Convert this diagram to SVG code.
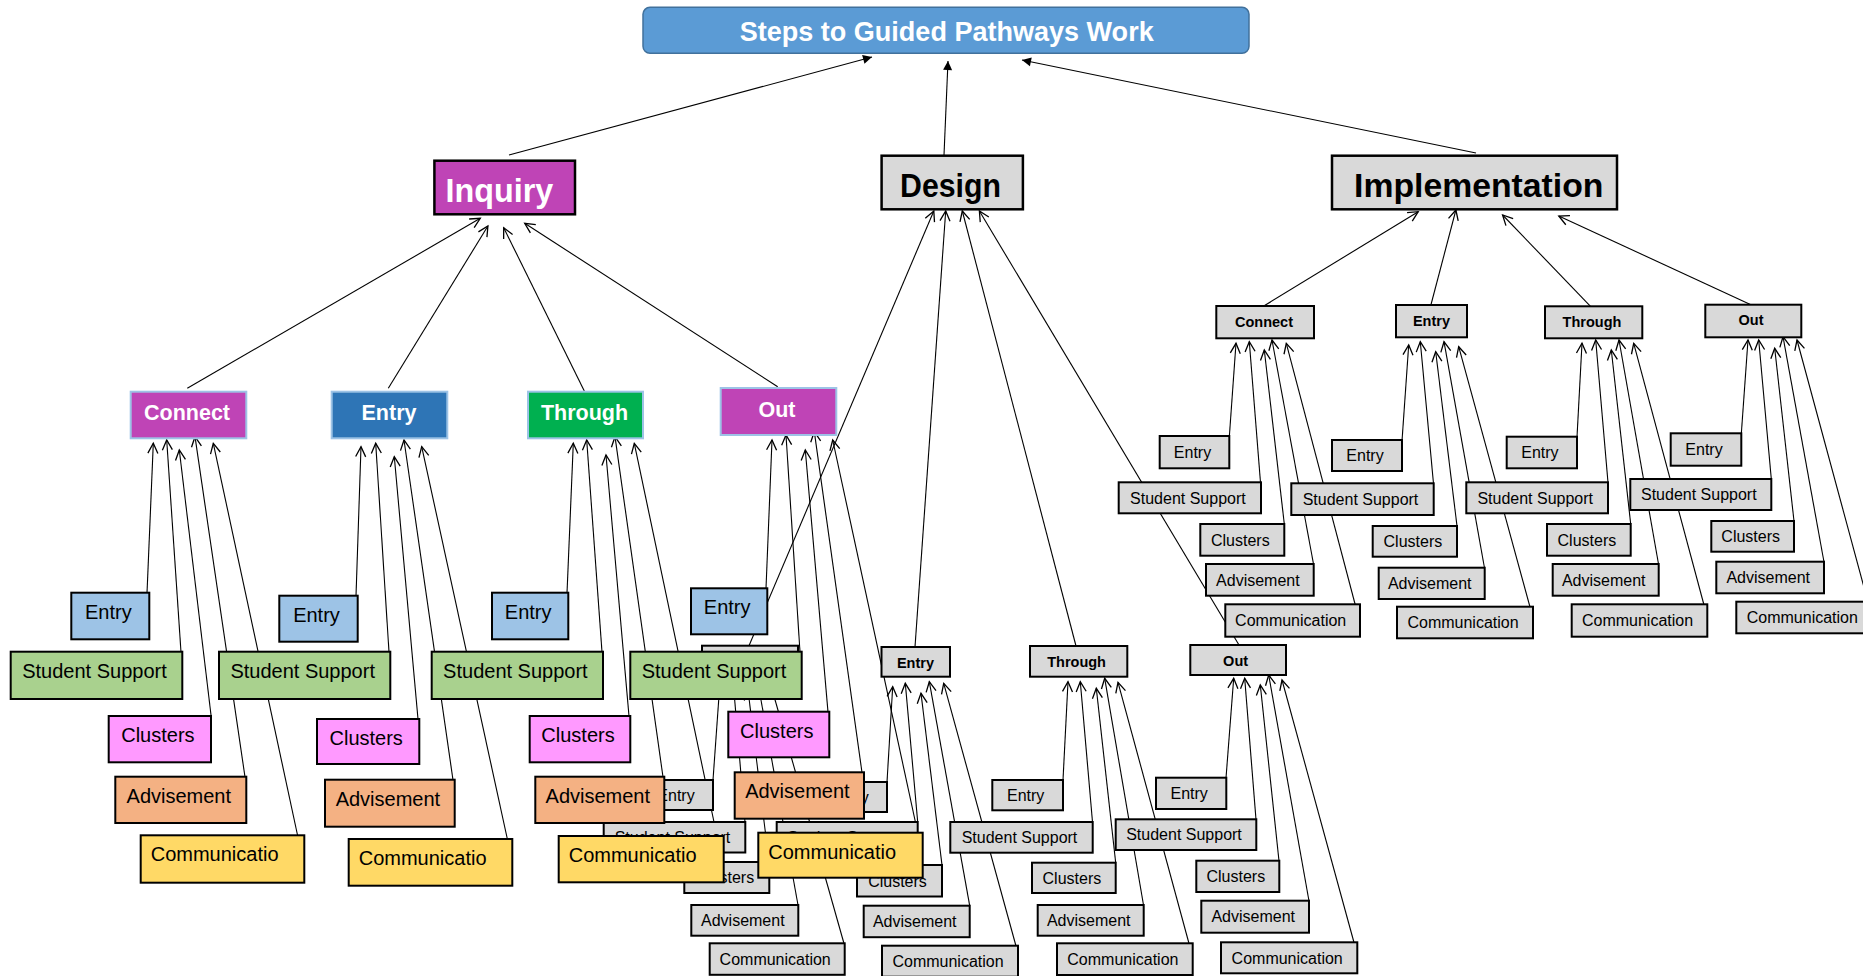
<svg xmlns="http://www.w3.org/2000/svg" width="1863" height="976" viewBox="0 0 1863 976">
<defs>
<marker id="oa" viewBox="-12 -7 14 14" refX="0" refY="0" markerWidth="14" markerHeight="14" markerUnits="userSpaceOnUse" orient="auto" overflow="visible"><path d="M-10,-5 L0,0 L-10,5" fill="none" stroke="#000" stroke-width="1.3"/></marker>
<marker id="fa" viewBox="-11 -6 12 12" refX="0" refY="0" markerWidth="12" markerHeight="12" markerUnits="userSpaceOnUse" orient="auto" overflow="visible"><path d="M-9,-4.5 L0,0 L-9,4.5 Z" fill="#000"/></marker>
</defs>
<style>
text{font-family:"Liberation Sans",Arial,sans-serif}
.c{stroke:#000;stroke-width:1.1;fill:none;marker-end:url(#oa)}
.ct{stroke:#000;stroke-width:1.1;fill:none;marker-end:url(#fa)}
.g{fill:#D9D9D9;stroke:#000;stroke-width:2}
.t4{font-size:16px;text-anchor:middle;fill:#000}
.t3{font-size:14.5px;font-weight:bold;text-anchor:middle;fill:#000}
.k{stroke:#000;stroke-width:2}
.tk{font-size:20px;fill:#000;text-anchor:middle}
.tks{font-size:20px;fill:#000}
.e{fill:#9DC3E6}.s{fill:#A9D18E}.l{fill:#FF99FF}.a{fill:#F4B183}.m{fill:#FFD966}
.q3{stroke:#9DC3E6;stroke-width:2}
.tq3{font-size:21.5px;font-weight:bold;fill:#fff;text-anchor:middle}
.big{font-size:32.5px;font-weight:bold}
</style>
<rect x="0" y="0" width="1863" height="976" fill="#fff"/>

<g id="connectors">
<line class="ct" x1="509" y1="155" x2="872" y2="57"/>
<line class="ct" x1="944" y1="155" x2="948" y2="61"/>
<line class="ct" x1="1476" y1="153" x2="1022" y2="60"/>

<line class="c" x1="187.3" y1="388.3" x2="480.3" y2="218.3"/>
<line class="c" x1="388.3" y1="388.3" x2="487.9" y2="226"/>
<line class="c" x1="584.3" y1="391" x2="503.7" y2="227.7"/>
<line class="c" x1="777.7" y1="386.7" x2="524.7" y2="223.3"/>

<line class="c" x1="749" y1="645.7" x2="933.8" y2="211"/>
<line class="c" x1="915" y1="647" x2="945.7" y2="211"/>
<line class="c" x1="1076" y1="646" x2="962.3" y2="211"/>
<line class="c" x1="1239" y1="645" x2="979.4" y2="211"/>

<line class="c" x1="1263.8" y1="306" x2="1418.2" y2="211.7"/>
<line class="c" x1="1430.9" y1="305" x2="1455.9" y2="210"/>
<line class="c" x1="1590.5" y1="306.3" x2="1502.6" y2="215"/>
<line class="c" x1="1750.9" y1="304.7" x2="1558.8" y2="216"/>

<line class="c" x1="147" y1="593" x2="153.3" y2="443.3"/>
<line class="c" x1="181" y1="652" x2="166.7" y2="440"/>
<line class="c" x1="211" y1="715" x2="179.3" y2="450"/>
<line class="c" x1="245" y1="777" x2="195" y2="436.7"/>
<line class="c" x1="299" y1="842" x2="213.3" y2="443.3"/>

<line class="c" x1="356" y1="596" x2="361" y2="446.7"/>
<line class="c" x1="389" y1="652" x2="375.7" y2="443.3"/>
<line class="c" x1="418" y1="719" x2="394.3" y2="456.7"/>
<line class="c" x1="453" y1="780" x2="404" y2="440"/>
<line class="c" x1="508" y1="842" x2="421.7" y2="446.7"/>

<line class="c" x1="567" y1="593" x2="573.3" y2="443.3"/>
<line class="c" x1="602" y1="652" x2="586.7" y2="440"/>
<line class="c" x1="629" y1="716" x2="606" y2="455"/>
<line class="c" x1="663" y1="777" x2="615" y2="436.7"/>
<line class="c" x1="718" y1="841" x2="634.3" y2="443.3"/>

<line class="c" x1="766" y1="588.5" x2="772" y2="440"/>
<line class="c" x1="800" y1="652" x2="786" y2="435"/>
<line class="c" x1="828" y1="712" x2="805.3" y2="450"/>
<line class="c" x1="862" y1="772.5" x2="814.3" y2="431.7"/>
<line class="c" x1="918" y1="834" x2="832.7" y2="440"/>

<line class="c" x1="713" y1="780" x2="720" y2="682"/>
<line class="c" x1="745" y1="822" x2="733" y2="680"/>
<line class="c" x1="769" y1="862" x2="748" y2="690"/>
<line class="c" x1="798" y1="905" x2="757" y2="678"/>
<line class="c" x1="844" y1="943.5" x2="770" y2="682"/>

<line class="c" x1="887" y1="782" x2="892.7" y2="686.7"/>
<line class="c" x1="917.7" y1="822" x2="905.3" y2="683.3"/>
<line class="c" x1="942" y1="865" x2="921" y2="693.3"/>
<line class="c" x1="969.7" y1="905.7" x2="929.3" y2="681.7"/>
<line class="c" x1="1016" y1="946" x2="943.7" y2="683.3"/>

<line class="c" x1="1063" y1="780" x2="1068" y2="681.7"/>
<line class="c" x1="1092.5" y1="822" x2="1080.3" y2="681.7"/>
<line class="c" x1="1115.7" y1="862.7" x2="1096.3" y2="688.3"/>
<line class="c" x1="1143.5" y1="905" x2="1104.7" y2="678.3"/>
<line class="c" x1="1189" y1="943.5" x2="1118" y2="682.3"/>

<line class="c" x1="1226" y1="778" x2="1233.7" y2="678.3"/>
<line class="c" x1="1256" y1="819.5" x2="1244.7" y2="678.3"/>
<line class="c" x1="1279" y1="861" x2="1260.3" y2="685"/>
<line class="c" x1="1309" y1="901" x2="1268.7" y2="675"/>
<line class="c" x1="1354" y1="942.5" x2="1282" y2="680"/>

<line class="c" x1="1229.3" y1="437" x2="1236" y2="343.3"/>
<line class="c" x1="1260.5" y1="482.5" x2="1249.3" y2="341.7"/>
<line class="c" x1="1284.3" y1="524" x2="1264.3" y2="350"/>
<line class="c" x1="1313.5" y1="564" x2="1272" y2="340"/>
<line class="c" x1="1355.3" y1="605" x2="1286.3" y2="343.3"/>

<line class="c" x1="1402" y1="441" x2="1408.7" y2="345"/>
<line class="c" x1="1433.5" y1="483.5" x2="1420.3" y2="341.7"/>
<line class="c" x1="1457" y1="526" x2="1435.7" y2="351.7"/>
<line class="c" x1="1484.5" y1="568" x2="1444" y2="341.7"/>
<line class="c" x1="1530" y1="607" x2="1458.7" y2="346.7"/>

<line class="c" x1="1577" y1="437" x2="1582" y2="343.3"/>
<line class="c" x1="1608" y1="482.5" x2="1595.7" y2="340"/>
<line class="c" x1="1630.7" y1="524" x2="1611.3" y2="350"/>
<line class="c" x1="1658.5" y1="564" x2="1619" y2="340"/>
<line class="c" x1="1704" y1="605" x2="1633.7" y2="343.3"/>

<line class="c" x1="1741.3" y1="434" x2="1748" y2="340"/>
<line class="c" x1="1771.3" y1="479" x2="1758.7" y2="340"/>
<line class="c" x1="1794" y1="521" x2="1774.7" y2="348.3"/>
<line class="c" x1="1824" y1="562" x2="1783" y2="336.7"/>
<line class="c" x1="1868" y1="602" x2="1797" y2="340"/>
</g>

<!-- Design branch -->
<g id="des-connect"><rect class="g" x="702" y="645.7" width="96" height="30.5"/></g>
<g id="des-connect-entry"><rect class="g" x="643" y="780" width="70" height="30"/><text class="t4" x="676" y="800.7">Entry</text></g>
<g id="des-connect-support"><rect class="g" x="603.7" y="822" width="141.6" height="30.5"/><text class="t4" x="672.5" y="843">Student Support</text></g>
<g id="des-connect-clusters"><rect class="g" x="684.3" y="862" width="85" height="31"/><text class="t4" x="724.8" y="883.2">Clusters</text></g>
<g id="des-connect-advisement"><rect class="g" x="691.3" y="905" width="107" height="30.7"/><text class="t4" x="742.8" y="926">Advisement</text></g>
<g id="des-connect-communication"><rect class="g" x="709.7" y="943.3" width="135" height="31.5"/><text class="t4" x="775.2" y="964.7">Communication</text></g>

<g id="des-entry"><rect class="g" x="881.5" y="647" width="68.5" height="29.7"/><text class="t3" x="915.5" y="667.5">Entry</text></g>
<g id="des-entry-entry"><rect class="g" x="817" y="782" width="70" height="30"/><text class="t4" x="850" y="802.7">Entry</text></g>
<g id="des-entry-support"><rect class="g" x="776.7" y="822" width="141" height="30"/><text class="t4" x="845.2" y="842.7">Student Support</text></g>
<g id="des-entry-clusters"><rect class="g" x="857" y="865" width="85" height="31.5"/><text class="t4" x="897.5" y="886.5">Clusters</text></g>
<g id="des-entry-advisement"><rect class="g" x="863.7" y="905.7" width="106" height="31.5"/><text class="t4" x="914.7" y="927.2">Advisement</text></g>
<g id="des-entry-communication"><rect class="g" x="882" y="945.7" width="136" height="31"/><text class="t4" x="948" y="966.9">Communication</text></g>

<g id="des-through"><rect class="g" x="1030" y="646" width="97.3" height="30.7"/><text class="t3" x="1076.6" y="666.5">Through</text></g>
<g id="des-through-entry"><rect class="g" x="992.3" y="780" width="70.7" height="30.3"/><text class="t4" x="1025.7" y="800.9">Entry</text></g>
<g id="des-through-support"><rect class="g" x="950.3" y="822" width="142.4" height="30.7"/><text class="t4" x="1019.5" y="843">Student Support</text></g>
<g id="des-through-clusters"><rect class="g" x="1032" y="862.7" width="83.7" height="30.3"/><text class="t4" x="1071.9" y="883.6">Clusters</text></g>
<g id="des-through-advisement"><rect class="g" x="1037.7" y="905" width="106" height="30.7"/><text class="t4" x="1088.7" y="926">Advisement</text></g>
<g id="des-through-communication"><rect class="g" x="1057" y="943.3" width="135.7" height="31.7"/><text class="t4" x="1122.9" y="964.9">Communication</text></g>

<g id="des-out"><rect class="g" x="1190.3" y="645" width="95.7" height="30"/><text class="t3" x="1235.6" y="665.5">Out</text></g>
<g id="des-out-entry"><rect class="g" x="1156" y="777.7" width="70.3" height="31.3"/><text class="t4" x="1189.2" y="799">Entry</text></g>
<g id="des-out-support"><rect class="g" x="1115.7" y="819.3" width="140.6" height="30.7"/><text class="t4" x="1184" y="840.4">Student Support</text></g>
<g id="des-out-clusters"><rect class="g" x="1196.3" y="860.7" width="83" height="31.3"/><text class="t4" x="1235.8" y="882">Clusters</text></g>
<g id="des-out-advisement"><rect class="g" x="1201.3" y="900.7" width="107.7" height="32"/><text class="t4" x="1253.2" y="922.4">Advisement</text></g>
<g id="des-out-communication"><rect class="g" x="1221" y="942.3" width="136.3" height="31"/><text class="t4" x="1287.2" y="963.5">Communication</text></g>

<!-- Implementation branch -->
<g id="imp-connect"><rect class="g" x="1216.3" y="306" width="97.7" height="32.3"/><text class="t3" x="1264" y="326.5">Connect</text></g>
<g id="imp-connect-entry"><rect class="g" x="1159.7" y="436" width="69.6" height="32.3"/><text class="t4" x="1192.5" y="457.9">Entry</text></g>
<g id="imp-connect-support"><rect class="g" x="1118.7" y="482.3" width="142.3" height="31"/><text class="t4" x="1187.9" y="503.5">Student Support</text></g>
<g id="imp-connect-clusters"><rect class="g" x="1200.3" y="524" width="84" height="31.7"/><text class="t4" x="1240.3" y="545.6">Clusters</text></g>
<g id="imp-connect-advisement"><rect class="g" x="1206" y="564" width="107.7" height="31.7"/><text class="t4" x="1257.9" y="585.6">Advisement</text></g>
<g id="imp-connect-communication"><rect class="g" x="1225.3" y="604.3" width="134.7" height="32.4"/><text class="t4" x="1290.7" y="626.2">Communication</text></g>

<g id="imp-entry"><rect class="g" x="1396" y="305" width="71" height="32.3"/><text class="t3" x="1431.5" y="325.5">Entry</text></g>
<g id="imp-entry-entry"><rect class="g" x="1332" y="440" width="70" height="31"/><text class="t4" x="1365" y="461.2">Entry</text></g>
<g id="imp-entry-support"><rect class="g" x="1291.3" y="483.3" width="142.4" height="31.7"/><text class="t4" x="1360.5" y="504.9">Student Support</text></g>
<g id="imp-entry-clusters"><rect class="g" x="1372.7" y="526" width="84.3" height="30.7"/><text class="t4" x="1412.9" y="547">Clusters</text></g>
<g id="imp-entry-advisement"><rect class="g" x="1378.7" y="567.7" width="106" height="31.3"/><text class="t4" x="1429.7" y="589">Advisement</text></g>
<g id="imp-entry-communication"><rect class="g" x="1397" y="606.7" width="136" height="31.6"/><text class="t4" x="1463" y="628.2">Communication</text></g>

<g id="imp-through"><rect class="g" x="1545" y="306.3" width="97.3" height="32"/><text class="t3" x="1592" y="326.8">Through</text></g>
<g id="imp-through-entry"><rect class="g" x="1506.7" y="436.7" width="70.3" height="31.6"/><text class="t4" x="1539.9" y="458.2">Entry</text></g>
<g id="imp-through-support"><rect class="g" x="1466.3" y="482.3" width="141.7" height="31"/><text class="t4" x="1535.2" y="503.5">Student Support</text></g>
<g id="imp-through-clusters"><rect class="g" x="1547" y="524" width="83.7" height="31.7"/><text class="t4" x="1586.9" y="545.6">Clusters</text></g>
<g id="imp-through-advisement"><rect class="g" x="1552.7" y="564" width="106" height="31.7"/><text class="t4" x="1603.7" y="585.6">Advisement</text></g>
<g id="imp-through-communication"><rect class="g" x="1571.7" y="604.3" width="135.6" height="32.4"/><text class="t4" x="1637.5" y="626.2">Communication</text></g>

<g id="imp-out"><rect class="g" x="1705.3" y="304.7" width="96" height="32.6"/><text class="t3" x="1751" y="325.2">Out</text></g>
<g id="imp-out-entry"><rect class="g" x="1670.7" y="433.3" width="70.6" height="32.4"/><text class="t4" x="1704" y="455.2">Entry</text></g>
<g id="imp-out-support"><rect class="g" x="1630.3" y="479" width="141" height="31"/><text class="t4" x="1698.8" y="500.2">Student Support</text></g>
<g id="imp-out-clusters"><rect class="g" x="1711.3" y="521" width="82.7" height="30.7"/><text class="t4" x="1750.7" y="542">Clusters</text></g>
<g id="imp-out-advisement"><rect class="g" x="1716.3" y="561.7" width="107.7" height="31.6"/><text class="t4" x="1768.2" y="583.2">Advisement</text></g>
<g id="imp-out-communication"><rect class="g" x="1736.3" y="601.7" width="136" height="31.6"/><text class="t4" x="1802.3" y="623.2">Communication</text></g>

<!-- Inquiry branch -->
<g id="inq-connect"><rect class="q3" fill="#BF44B6" x="130.7" y="391.7" width="115.6" height="46.6"/><text class="tq3" x="187" y="420.2">Connect</text></g>
<g id="inq-connect-entry"><rect class="k e" x="71.3" y="592.7" width="78" height="46.6"/><text class="tk" x="108.3" y="618.7">Entry</text></g>
<g id="inq-connect-support"><rect class="k s" x="10.7" y="651.7" width="171.6" height="47.3"/><text class="tk" x="94.5" y="677.7">Student Support</text></g>
<g id="inq-connect-clusters"><rect class="k l" x="108.7" y="716" width="102.3" height="46.3"/><text class="tk" x="157.9" y="742">Clusters</text></g>
<g id="inq-connect-advisement"><rect class="k a" x="115.3" y="776.7" width="131" height="46.3"/><text class="tk" x="178.8" y="802.7">Advisement</text></g>
<g id="inq-connect-communication"><rect class="k m" x="140.7" y="835.3" width="163.6" height="47.4"/><text class="tks" x="150.7" y="861.3">Communicatio</text></g>

<g id="inq-entry"><rect class="q3" fill="#2E75B6" x="331.7" y="391.7" width="115.6" height="46.6"/><text class="tq3" x="389" y="420.2">Entry</text></g>
<g id="inq-entry-entry"><rect class="k e" x="279.3" y="595.7" width="78.4" height="46"/><text class="tk" x="316.5" y="621.7">Entry</text></g>
<g id="inq-entry-support"><rect class="k s" x="219" y="651.7" width="171.3" height="47.3"/><text class="tk" x="302.7" y="677.7">Student Support</text></g>
<g id="inq-entry-clusters"><rect class="k l" x="317" y="719" width="102.3" height="45"/><text class="tk" x="366.2" y="745">Clusters</text></g>
<g id="inq-entry-advisement"><rect class="k a" x="325" y="779.7" width="129.7" height="47"/><text class="tk" x="387.9" y="805.7">Advisement</text></g>
<g id="inq-entry-communication"><rect class="k m" x="348.7" y="839" width="163.6" height="46.7"/><text class="tks" x="358.7" y="865">Communicatio</text></g>

<g id="inq-through"><rect class="q3" fill="#00B050" x="528" y="391.7" width="115" height="46.6"/><text class="tq3" x="584.5" y="420.2">Through</text></g>
<g id="inq-through-entry"><rect class="k e" x="492" y="592.7" width="76.3" height="46.6"/><text class="tk" x="528.2" y="618.7">Entry</text></g>
<g id="inq-through-support"><rect class="k s" x="431.7" y="651.7" width="171.3" height="47.3"/><text class="tk" x="515.4" y="677.7">Student Support</text></g>
<g id="inq-through-clusters"><rect class="k l" x="529.7" y="716" width="100.6" height="46.3"/><text class="tk" x="578" y="742">Clusters</text></g>
<g id="inq-through-advisement"><rect class="k a" x="535.3" y="776.7" width="129" height="46.3"/><text class="tk" x="597.8" y="802.7">Advisement</text></g>
<g id="inq-through-communication"><rect class="k m" x="558.7" y="836" width="165" height="46.3"/><text class="tks" x="568.7" y="862">Communicatio</text></g>

<g id="inq-out"><rect class="q3" fill="#BF44B6" x="720.7" y="388" width="115.6" height="47"/><text class="tq3" x="777" y="416.5">Out</text></g>
<g id="inq-out-entry"><rect class="k e" x="691" y="588.3" width="76.3" height="46"/><text class="tk" x="727.2" y="614.3">Entry</text></g>
<g id="inq-out-support"><rect class="k s" x="630.3" y="651.7" width="171.4" height="47.3"/><text class="tk" x="714" y="677.7">Student Support</text></g>
<g id="inq-out-clusters"><rect class="k l" x="728.3" y="711.7" width="101" height="45.6"/><text class="tk" x="776.8" y="737.7">Clusters</text></g>
<g id="inq-out-advisement"><rect class="k a" x="734.7" y="772.3" width="129.3" height="46.4"/><text class="tk" x="797.4" y="798.3">Advisement</text></g>
<g id="inq-out-communication"><rect class="k m" x="758.3" y="832.7" width="164.4" height="45"/><text class="tks" x="768.3" y="858.7">Communicatio</text></g>

<!-- Top levels -->
<g id="inquiry"><rect x="434.4" y="160.7" width="140.6" height="53.6" fill="#BF44B6" stroke="#000" stroke-width="2.5"/><text class="big" x="445.5" y="201.7" fill="#fff" textLength="107.7" lengthAdjust="spacingAndGlyphs">Inquiry</text></g>
<g id="design"><rect x="881.6" y="155.7" width="141.3" height="53.6" fill="#D9D9D9" stroke="#000" stroke-width="2.5"/><text class="big" x="900" y="196.7" fill="#000" textLength="101" lengthAdjust="spacingAndGlyphs">Design</text></g>
<g id="implementation"><rect x="1332" y="155.7" width="285" height="53.6" fill="#D9D9D9" stroke="#000" stroke-width="2.5"/><text class="big" x="1354" y="196.7" fill="#000" textLength="249.5" lengthAdjust="spacingAndGlyphs">Implementation</text></g>
<g id="title"><rect x="643" y="7.3" width="606" height="46" rx="7" fill="#5B9BD5" stroke="#41719C" stroke-width="1.5"/><text x="946.7" y="40.7" font-size="27" font-weight="bold" fill="#fff" text-anchor="middle" textLength="414" lengthAdjust="spacingAndGlyphs">Steps to Guided Pathways Work</text></g>
</svg>
